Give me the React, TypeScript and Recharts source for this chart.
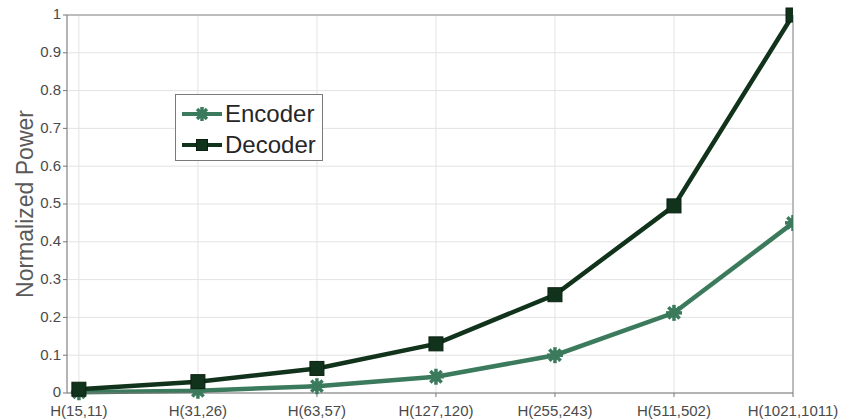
import {
  LineChart,
  Line,
  XAxis,
  YAxis,
  CartesianGrid,
  ReferenceLine,
} from 'recharts';

const categories = ['H(15,11)', 'H(31,26)', 'H(63,57)', 'H(127,120)', 'H(255,243)', 'H(511,502)', 'H(1021,1011)'];
const encoder = [0.002, 0.006, 0.018, 0.043, 0.1, 0.212, 0.45];
const decoder = [0.01, 0.03, 0.065, 0.13, 0.26, 0.495, 1.0];
const yTicks = [0, 0.1, 0.2, 0.3, 0.4, 0.5, 0.6, 0.7, 0.8, 0.9, 1];

const ENC = '#3b7a5c';
const DEC = '#11331c';

const data = categories.map((c, i) => ({ x: i + 1, name: c, encoder: encoder[i], decoder: decoder[i] }));

function Star({ cx, cy, color, r = 8 }: any) {
  if (cx == null || cy == null) return null;
  const lines = [0, 45, 90, 135].map((a) => {
    const rad = (a * Math.PI) / 180;
    const dx = Math.cos(rad) * r;
    const dy = Math.sin(rad) * r;
    return <line key={a} x1={cx - dx} y1={cy - dy} x2={cx + dx} y2={cy + dy} stroke={color} strokeWidth={3.5} />;
  });
  return (
    <g>
      <circle cx={cx} cy={cy} r={r * 0.6} fill={color} />
      {lines}
    </g>
  );
}

function Square({ cx, cy, color, s = 14 }: any) {
  if (cx == null || cy == null) return null;
  return <rect x={cx - s / 2} y={cy - s / 2} width={s} height={s} fill={color} stroke="#0a1f10" strokeWidth={1} />;
}

function LegendBox() {
  const row = (label: string, color: string, marker: 'star' | 'square') => (
    <div style={{ display: 'flex', alignItems: 'center', height: 31 }}>
      <svg width={44} height={20}>
        <line x1={2} y1={10} x2={42} y2={10} stroke={color} strokeWidth={4} />
        {marker === 'star' ? <Star cx={22} cy={10} color={color} r={7} /> : <Square cx={22} cy={10} color={color} s={11} />}
      </svg>
      <span style={{ marginLeft: 1, fontSize: 24, color: '#262626', lineHeight: '24px' }}>{label}</span>
    </div>
  );
  return (
    <div
      style={{
        position: 'absolute',
        left: 175,
        top: 94,
        border: '1px solid #7a7a7a',
        background: '#fff',
        width: 142,
        height: 62,
        padding: '3px 0 0 4px',
        fontFamily: '"Liberation Sans", Arial, sans-serif',
      }}
    >
      {row('Encoder', ENC, 'star')}
      {row('Decoder', DEC, 'square')}
    </div>
  );
}

export default function App() {
  return (
    <div style={{ position: 'absolute', left: 0, top: 0, width: 843, height: 420, background: '#fff' }}>
      <LineChart
        width={843}
        height={420}
        data={data}
        margin={{ top: 15, right: 50, left: 17, bottom: 7 }}
        style={{ fontFamily: '"Liberation Sans", Arial, sans-serif' }}
      >
        <CartesianGrid stroke="#e3e3e3" strokeWidth={1} />
        <XAxis
          dataKey="x"
          type="number"
          domain={[0.9, 7]}
          ticks={[1, 2, 3, 4, 5, 6, 7]}
          tickFormatter={(v: number) => categories[v - 1] ?? ''}
          interval={0}
          height={20}
          stroke="#777"
          tickLine={{ stroke: '#777' }}
          tickSize={4}
          tick={{ fill: '#4a4a4a', fontSize: 15, dy: 6 }}
          allowDataOverflow
        />
        <YAxis
          type="number"
          domain={[0, 1]}
          ticks={yTicks}
          width={50}
          stroke="#777"
          tickSize={4}
          tick={{ fill: '#4a4a4a', fontSize: 15, dy: -1 }}
          tickFormatter={(v: number) => String(Math.round(v * 10) / 10)}
          label={{
            value: 'Normalized Power',
            angle: -90,
            position: 'insideLeft',
            offset: 0,
            style: { textAnchor: 'middle', fill: '#595959', fontSize: 23 },
            dx: 8,
          }}
        />
        <ReferenceLine y={1} stroke="#888" strokeWidth={1} ifOverflow="visible" />
        <ReferenceLine x={7} stroke="#888" strokeWidth={1} ifOverflow="visible" />
        <Line
          type="linear"
          dataKey="encoder"
          stroke={ENC}
          strokeWidth={4.5}
          dot={(p: any) => <Star key={`e${p.index}`} cx={p.cx} cy={p.cy} color={ENC} />}
          activeDot={false}
          isAnimationActive={false}
        />
        <Line
          type="linear"
          dataKey="decoder"
          stroke={DEC}
          strokeWidth={4.5}
          dot={(p: any) => <Square key={`d${p.index}`} cx={p.cx} cy={p.cy} color={DEC} />}
          activeDot={false}
          isAnimationActive={false}
        />
      </LineChart>
      <LegendBox />
    </div>
  );
}
